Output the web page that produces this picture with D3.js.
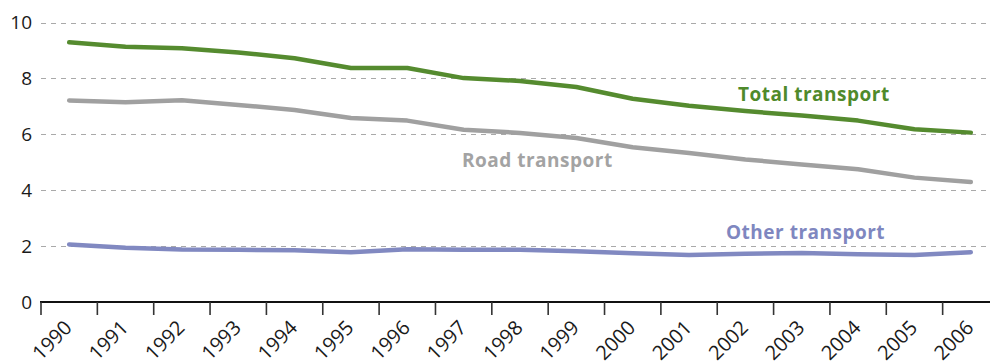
<!DOCTYPE html>
<html>
<head>
<meta charset="utf-8">
<script src="https://cdn.jsdelivr.net/npm/d3@7"></script>
<style>
  html, body { margin: 0; padding: 0; background: #fff; }
  svg { display: block; font-family: "Open Sans", "Noto Sans", sans-serif; }
</style>
</head>
<body>
<svg id="chart" width="990" height="364"></svg>
<script>
// Years on the horizontal axis
const years = ["1990","1991","1992","1993","1994","1995","1996","1997","1998",
               "1999","2000","2001","2002","2003","2004","2005","2006"];

// Series values per year
const totalTransport = [9.29, 9.13, 9.08, 8.93, 8.72, 8.37, 8.37, 8.01, 7.91,
                        7.69, 7.27, 7.02, 6.83, 6.67, 6.49, 6.18, 6.06];
const roadTransport  = [7.21, 7.15, 7.22, 7.05, 6.87, 6.58, 6.49, 6.16, 6.05,
                        5.87, 5.54, 5.33, 5.10, 4.92, 4.75, 4.45, 4.29];
const otherTransport = [2.06, 1.94, 1.88, 1.87, 1.85, 1.78, 1.89, 1.87, 1.87,
                        1.82, 1.74, 1.68, 1.73, 1.75, 1.71, 1.68, 1.78];

const yTicks = [0, 2, 4, 6, 8, 10];

const seriesNames = ["Total transport", "Road transport", "Other transport"];

const svg = d3.select("#chart");
const plotLeft = 41, plotRight = 999, plotTop = 22, plotBottom = 302;

const x = d3.scaleBand().domain(years).range([plotLeft, plotRight]);
const y = d3.scaleLinear().domain([0, 10]).range([plotBottom, plotTop + 0.5]);

// Horizontal dashed grid lines
svg.append("g")
  .selectAll("line")
  .data(yTicks.filter(d => d > 0))
  .join("line")
  .attr("x1", plotLeft).attr("x2", 990)
  .attr("y1", d => Math.round(y(d)) + 0.5).attr("y2", d => Math.round(y(d)) + 0.5)
  .attr("stroke", "#a9a9a9")
  .attr("stroke-width", 1)
  .attr("stroke-dasharray", "5,5");

// Y-axis labels
svg.append("g")
  .selectAll("text")
  .data(yTicks)
  .join("text")
  .attr("x", 32)
  .attr("y", d => y(d))
  .attr("dy", "0.36em")
  .attr("text-anchor", "end")
  .attr("font-size", 19)
  .attr("fill", "#1a1a1a")
  .text(d => d);

// Lines
const line = d3.line()
  .x((d, i) => x(years[i]) + x.bandwidth() / 2)
  .y(d => y(d));

const series = [
  { values: totalTransport, color: "#558b2f" },
  { values: roadTransport,  color: "#a0a0a0" },
  { values: otherTransport, color: "#8189c1" }
];

svg.append("g")
  .selectAll("path")
  .data(series)
  .join("path")
  .attr("d", d => line(d.values))
  .attr("fill", "none")
  .attr("stroke", d => d.color)
  .attr("stroke-width", 4.5)
  .attr("stroke-linecap", "round")
  .attr("stroke-linejoin", "round");

// X axis: baseline, ticks at band boundaries, labels at band centres
const xAxis = svg.append("g");
xAxis.append("line")
  .attr("x1", plotLeft - 1).attr("x2", 990)
  .attr("y1", plotBottom).attr("y2", plotBottom)
  .attr("stroke", "#111")
  .attr("stroke-width", 2.2);

xAxis.selectAll("line.tick")
  .data(years)
  .join("line")
  .attr("class", "tick")
  .attr("x1", d => x(d)).attr("x2", d => x(d))
  .attr("y1", plotBottom).attr("y2", plotBottom + 13)
  .attr("stroke", "#333")
  .attr("stroke-width", 1.6);

xAxis.selectAll("text")
  .data(years)
  .join("text")
  .attr("transform", d => `translate(${x(d) + x.bandwidth() / 2 + 4},${plotBottom + 27}) rotate(-45)`)
  .attr("text-anchor", "end")
  .attr("font-size", 20)
  .attr("fill", "#1a1a1a")
  .text(d => d);

// Series labels
const labels = [
  { text: seriesNames[0], x: 738, y: 101, color: "#4f8a2b" },
  { text: seriesNames[1], x: 462, y: 167, color: "#a3a3a3" },
  { text: seriesNames[2], x: 726, y: 239, color: "#7f87c0" }
];

svg.append("g")
  .selectAll("text")
  .data(labels)
  .join("text")
  .attr("x", d => d.x)
  .attr("y", d => d.y)
  .attr("font-size", 19)
  .attr("font-weight", "bold")
  .attr("letter-spacing", 0.5)
  .attr("fill", d => d.color)
  .text(d => d.text);
</script>
</body>
</html>
